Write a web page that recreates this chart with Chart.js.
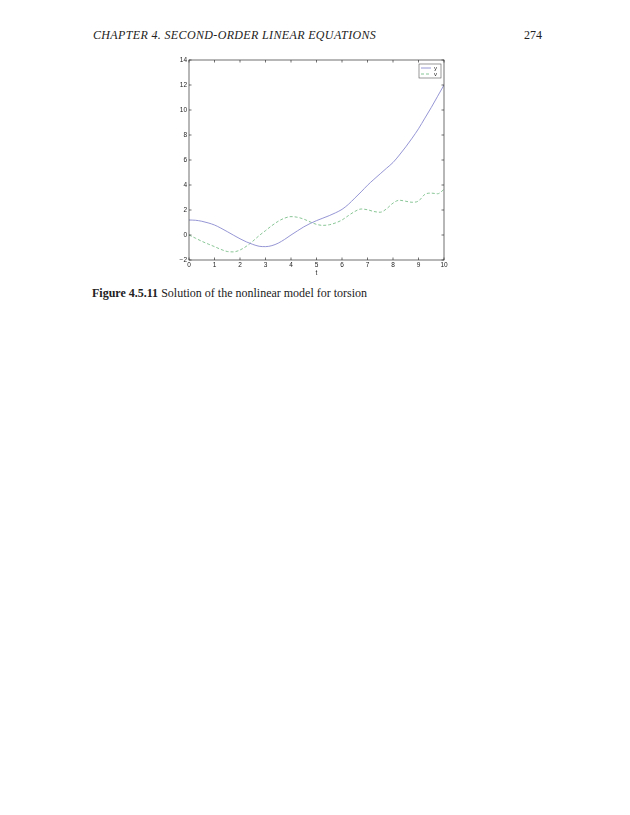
<!DOCTYPE html>
<html>
<head>
<meta charset="utf-8">
<script src="https://cdn.jsdelivr.net/npm/chart.js@4"></script>
<style>
  html, body { margin: 0; padding: 0; background: #fff; }
  body { width: 630px; height: 815px; position: relative; overflow: hidden; }
  .head { position: absolute; top: 28px; font-family: "Liberation Serif", serif; font-style: italic; font-size: 12px; color: #222; }
  #chapter { left: 93px; letter-spacing: 0.35px; }
  #page { left: 524px; font-style: normal; }
  #caption { position: absolute; left: 92px; top: 286px; font-family: "Liberation Serif", serif; font-size: 12px; color: #222; }
  #caption b { font-weight: bold; }
  #wrap { position: absolute; left: 150px; top: 50px; width: 310px; height: 235px; }
</style>
</head>
<body>
<div class="head" id="chapter">CHAPTER 4. SECOND-ORDER LINEAR EQUATIONS</div>
<div class="head" id="page">274</div>
<div id="wrap"><canvas id="torsionChart"></canvas></div>
<div id="caption"><b>Figure 4.5.11</b> Solution of the nonlinear model for torsion</div>

<script>
// time samples (step 0.25)
const tValues = [0, 0.25, 0.5, 0.75, 1, 1.25, 1.5, 1.75, 2, 2.25, 2.5, 2.75, 3, 3.25, 3.5, 3.75,
  4, 4.25, 4.5, 4.75, 5, 5.25, 5.5, 5.75, 6, 6.25, 6.5, 6.75, 7, 7.25, 7.5, 7.75,
  8, 8.25, 8.5, 8.75, 9, 9.25, 9.5, 9.75, 10];

const yValues = [1.2, 1.18, 1.1, 0.97, 0.8, 0.55, 0.27, -0.02, -0.3, -0.55, -0.75, -0.9, -0.93, -0.85, -0.65, -0.35,
  0.0, 0.33, 0.65, 0.92, 1.15, 1.35, 1.55, 1.78, 2.05, 2.45, 2.95, 3.45, 3.98, 4.45, 4.9, 5.35,
  5.8, 6.4, 7.05, 7.75, 8.5, 9.35, 10.2, 11.1, 12.0];

const vValues = [0, -0.25, -0.5, -0.72, -0.93, -1.15, -1.32, -1.35, -1.2, -0.9, -0.5, -0.05, 0.35, 0.75, 1.1, 1.35,
  1.47, 1.42, 1.27, 1.05, 0.85, 0.77, 0.82, 0.97, 1.2, 1.55, 1.88, 2.08, 2.02, 1.88, 1.82, 2.1,
  2.55, 2.78, 2.7, 2.62, 2.72, 3.25, 3.35, 3.3, 3.65];

const xTicks = [0, 1, 2, 3, 4, 5, 6, 7, 8, 9, 10];
const yTicks = [-2, 0, 2, 4, 6, 8, 10, 12, 14];
const seriesNames = ["y", "v"];

const toPoints = vals => vals.map((v, i) => ({ x: tValues[i], y: v }));

// inward ticks on all four sides + full box
const frameTicks = {
  id: "frameTicks",
  afterDraw(chart) {
    const { ctx, chartArea: a, scales } = chart;
    ctx.save();
    ctx.strokeStyle = "#333";
    ctx.lineWidth = 0.7;
    ctx.strokeRect(a.left, a.top, a.right - a.left, a.bottom - a.top);
    const len = 2.5;
    ctx.beginPath();
    xTicks.forEach(t => {
      const px = scales.x.getPixelForValue(t);
      ctx.moveTo(px, a.bottom); ctx.lineTo(px, a.bottom - len);
      ctx.moveTo(px, a.top); ctx.lineTo(px, a.top + len);
    });
    yTicks.forEach(t => {
      const py = scales.y.getPixelForValue(t);
      ctx.moveTo(a.left, py); ctx.lineTo(a.left + len, py);
      ctx.moveTo(a.right, py); ctx.lineTo(a.right - len, py);
    });
    ctx.stroke();
    ctx.restore();
  }
};

// small boxed legend inside the upper right corner
const boxLegend = {
  id: "boxLegend",
  afterDraw(chart) {
    const { ctx, chartArea: a } = chart;
    const w = 22, h = 14;
    const x0 = a.right - w - 3, y0 = a.top + 4;
    ctx.save();
    ctx.fillStyle = "#fff";
    ctx.fillRect(x0, y0, w, h);
    ctx.strokeStyle = "#555";
    ctx.lineWidth = 0.6;
    ctx.strokeRect(x0, y0, w, h);
    chart.data.datasets.forEach((ds, i) => {
      const yy = y0 + 4 + i * 6;
      ctx.beginPath();
      ctx.strokeStyle = ds.borderColor;
      ctx.lineWidth = 0.9;
      ctx.setLineDash(ds.borderDash || []);
      ctx.moveTo(x0 + 2, yy);
      ctx.lineTo(x0 + 12, yy);
      ctx.stroke();
      ctx.setLineDash([]);
      ctx.fillStyle = "#222";
      ctx.font = "6px 'Liberation Sans'";
      ctx.textBaseline = "middle";
      ctx.fillText(ds.label, x0 + 15, yy);
    });
    ctx.restore();
  }
};

new Chart(document.getElementById("torsionChart").getContext("2d"), {
  type: "line",
  data: {
    datasets: [
      {
        label: seriesNames[0],
        data: toPoints(yValues),
        borderColor: "#8a8ad0",
        borderWidth: 0.9,
        pointRadius: 0,
        cubicInterpolationMode: "monotone"
      },
      {
        label: seriesNames[1],
        data: toPoints(vValues),
        borderColor: "#7cbf8a",
        borderWidth: 0.9,
        borderDash: [3, 2],
        pointRadius: 0,
        cubicInterpolationMode: "monotone"
      }
    ]
  },
  options: {
    responsive: true,
    maintainAspectRatio: false,
    animation: false,
    layout: { padding: { left: 0, top: 10, right: 16, bottom: 8 } },
    plugins: {
      legend: { display: false },
      tooltip: { enabled: false }
    },
    scales: {
      x: {
        type: "linear",
        min: 0,
        max: 10,
        afterBuildTicks: s => { s.ticks = xTicks.map(v => ({ value: v })); },
        afterFit: s => { s.height = 17; },
        grid: { display: false, drawTicks: false },
        border: { display: false },
        ticks: {
          padding: 1,
          color: "#222",
          font: { family: "Liberation Sans", size: 6.5 },
          maxRotation: 0
        },
        title: {
          display: true,
          text: "t",
          color: "#222",
          padding: 0,
          font: { family: "Liberation Sans", size: 6.5 }
        }
      },
      y: {
        min: -2,
        max: 14,
        afterBuildTicks: s => { s.ticks = yTicks.map(v => ({ value: v })); },
        afterFit: s => { s.width = 39; },
        grid: { display: false, drawTicks: false },
        border: { display: false },
        ticks: {
          padding: 2,
          color: "#222",
          font: { family: "Liberation Sans", size: 6.5 },
          callback: v => String(v).replace("-", "\u2212")
        }
      }
    }
  },
  plugins: [frameTicks, boxLegend]
});
</script>
</body>
</html>
